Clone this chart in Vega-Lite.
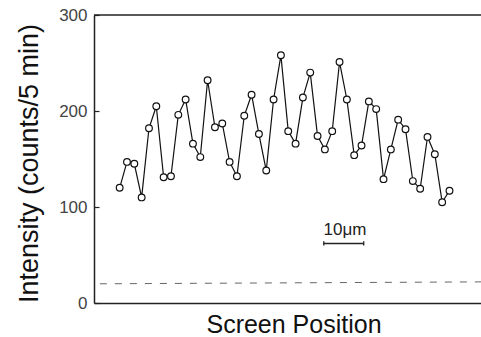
{
  "$schema": "https://vega.github.io/schema/vega-lite/v6.json",
  "width": 387,
  "height": 288,
  "autosize": "none",
  "padding": {"left": 94, "top": 15, "right": 0, "bottom": 34},
  "background": "white",
  "config": {
    "view": {"stroke": null},
    "font": "Liberation Sans"
  },
  "datasets": {
    "profile": [
      {"pos": 1, "intensity": 120},
      {"pos": 2, "intensity": 147},
      {"pos": 3, "intensity": 145},
      {"pos": 4, "intensity": 110},
      {"pos": 5, "intensity": 182},
      {"pos": 6, "intensity": 205},
      {"pos": 7, "intensity": 131},
      {"pos": 8, "intensity": 132},
      {"pos": 9, "intensity": 196},
      {"pos": 10, "intensity": 212},
      {"pos": 11, "intensity": 166},
      {"pos": 12, "intensity": 152},
      {"pos": 13, "intensity": 232},
      {"pos": 14, "intensity": 183},
      {"pos": 15, "intensity": 187},
      {"pos": 16, "intensity": 147},
      {"pos": 17, "intensity": 132},
      {"pos": 18, "intensity": 195},
      {"pos": 19, "intensity": 217},
      {"pos": 20, "intensity": 176},
      {"pos": 21, "intensity": 138},
      {"pos": 22, "intensity": 212},
      {"pos": 23, "intensity": 258},
      {"pos": 24, "intensity": 179},
      {"pos": 25, "intensity": 166},
      {"pos": 26, "intensity": 214},
      {"pos": 27, "intensity": 240},
      {"pos": 28, "intensity": 174},
      {"pos": 29, "intensity": 160},
      {"pos": 30, "intensity": 179},
      {"pos": 31, "intensity": 251},
      {"pos": 32, "intensity": 212},
      {"pos": 33, "intensity": 154},
      {"pos": 34, "intensity": 164},
      {"pos": 35, "intensity": 210},
      {"pos": 36, "intensity": 202},
      {"pos": 37, "intensity": 129},
      {"pos": 38, "intensity": 160},
      {"pos": 39, "intensity": 191},
      {"pos": 40, "intensity": 181},
      {"pos": 41, "intensity": 127},
      {"pos": 42, "intensity": 119},
      {"pos": 43, "intensity": 173},
      {"pos": 44, "intensity": 155},
      {"pos": 45, "intensity": 105},
      {"pos": 46, "intensity": 117}
    ],
    "frame": [
      {"x": -2.5, "x2": 50.3, "y": 300, "y2": 300}
    ],
    "background_level": [
      {"x": -1.7, "x2": 50.3, "y": 20, "y2": 22}
    ],
    "scalebar": [
      {"x": 28.85, "x2": 34.3, "y": 62, "y2": 62},
      {"x": 28.85, "x2": 28.85, "y": 59.8, "y2": 64.2},
      {"x": 34.3, "x2": 34.3, "y": 59.8, "y2": 64.2}
    ],
    "scalelabel": [
      {"x": 31.75, "y": 70.8, "label": "10μm"}
    ]
  },
  "encoding": {
    "x": {"type": "quantitative",
          "scale": {"domain": [-2.5, 50.3], "nice": false, "zero": false},
          "axis": {"orient": "bottom", "title": "Screen Position", "labels": false, "ticks": false, "grid": false,
                   "domainColor": "#222", "domainWidth": 1.5,
                   "titleFont": "Liberation Sans", "titleFontSize": 25, "titleFontWeight": "normal", "titleColor": "#111",
                   "titleX": 199.5, "titleY": 29, "titleAlign": "center", "titleBaseline": "alphabetic"}},
    "y": {"type": "quantitative",
          "scale": {"domain": [0, 300], "nice": false},
          "axis": {"orient": "left", "values": [0, 100, 200, 300], "grid": false,
                   "title": "Intensity (counts/5 min)",
                   "domainColor": "#222", "domainWidth": 1.5,
                   "tickColor": "#222", "tickSize": -5, "tickWidth": 1.2,
                   "labelFont": "Liberation Sans", "labelFontSize": 17, "labelColor": "#444", "labelPadding": 12,
                   "titleFont": "Liberation Sans", "titleFontSize": 27, "titleFontWeight": "normal", "titleColor": "#111",
                   "titleAngle": -90, "titleX": -57, "titleY": 148, "titleAlign": "center", "titleBaseline": "alphabetic"}}
  },
  "layer": [
    {
      "data": {"name": "profile"},
      "mark": {
        "type": "line",
        "color": "#111",
        "strokeWidth": 1.2,
        "point": {"filled": true, "fill": "white", "stroke": "#111", "strokeWidth": 1.2, "size": 45}
      },
      "encoding": {
        "x": {"field": "pos"},
        "y": {"field": "intensity"}
      }
    },
    {
      "data": {"name": "frame"},
      "mark": {"type": "rule", "color": "#222", "strokeWidth": 1.5},
      "encoding": {
        "x": {"field": "x"},
        "x2": {"field": "x2"},
        "y": {"field": "y"},
        "y2": {"field": "y2"}
      }
    },
    {
      "data": {"name": "background_level"},
      "mark": {"type": "rule", "color": "#666", "strokeWidth": 1, "strokeDash": [7, 8]},
      "encoding": {
        "x": {"field": "x"},
        "x2": {"field": "x2"},
        "y": {"field": "y"},
        "y2": {"field": "y2"}
      }
    },
    {
      "data": {"name": "scalebar"},
      "mark": {"type": "rule", "color": "#222", "strokeWidth": 1.3},
      "encoding": {
        "x": {"field": "x"},
        "x2": {"field": "x2"},
        "y": {"field": "y"},
        "y2": {"field": "y2"}
      }
    },
    {
      "data": {"name": "scalelabel"},
      "mark": {"type": "text", "font": "Liberation Sans", "fontSize": 17, "color": "#222", "align": "center", "baseline": "alphabetic"},
      "encoding": {
        "x": {"field": "x"},
        "y": {"field": "y"},
        "text": {"field": "label"}
      }
    }
  ]
}
